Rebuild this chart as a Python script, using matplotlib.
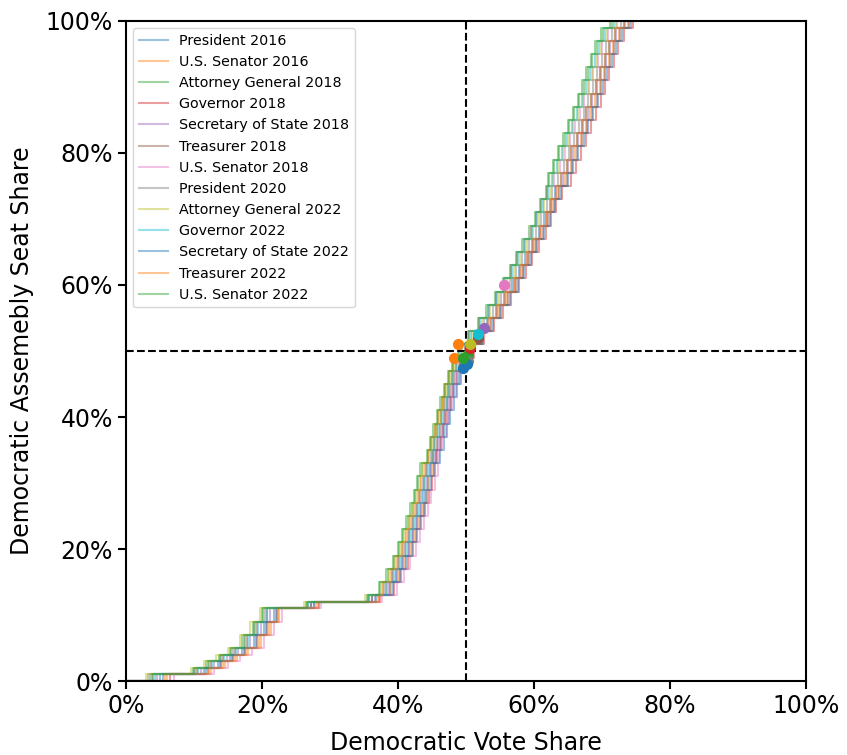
import matplotlib
matplotlib.use("Agg")
import matplotlib.pyplot as plt
from matplotlib.ticker import PercentFormatter

# seat share levels shared by all curves (step reached at the vote share below)
seat_levels = [0.00, 0.01, 0.02, 0.03, 0.04, 0.05, 0.07, 0.09, 0.11, 0.12, 0.13,
               0.15, 0.17, 0.19, 0.21, 0.23, 0.25, 0.27, 0.29, 0.31, 0.33,
               0.35, 0.37, 0.39, 0.41, 0.43, 0.45, 0.47, 0.49,
               0.51, 0.53, 0.55, 0.57, 0.59, 0.61, 0.63, 0.65, 0.67, 0.69, 0.71, 0.73, 0.75,
               0.77, 0.79, 0.81, 0.83, 0.85, 0.87, 0.89, 0.91, 0.93, 0.95, 0.97, 0.99, 1.00]

elections = ["President 2016", "U.S. Senator 2016", "Attorney General 2018", "Governor 2018",
             "Secretary of State 2018", "Treasurer 2018", "U.S. Senator 2018", "President 2020",
             "Attorney General 2022", "Governor 2022", "Secretary of State 2022",
             "Treasurer 2022", "U.S. Senator 2022"]

# vote share at which each seat level is reached, one list per election
president_2016 = [0.000, 0.050, 0.115, 0.135, 0.153, 0.170, 0.188, 0.203, 0.217, 0.272, 0.362,
                  0.388, 0.399, 0.408, 0.416, 0.422, 0.428, 0.434, 0.439, 0.444, 0.449,
                  0.458, 0.463, 0.468, 0.473, 0.478, 0.483, 0.489, 0.495,
                  0.502, 0.517, 0.531, 0.544, 0.556, 0.568, 0.578, 0.587, 0.597, 0.607, 0.615, 0.623, 0.631,
                  0.640, 0.648, 0.655, 0.663, 0.670, 0.677, 0.684, 0.691, 0.697, 0.704, 0.710, 0.719, 0.732]
senator_2016 = [0.000, 0.060, 0.125, 0.145, 0.163, 0.180, 0.198, 0.213, 0.225, 0.282, 0.372,
                0.390, 0.401, 0.410, 0.418, 0.424, 0.430, 0.436, 0.441, 0.446, 0.451,
                0.452, 0.453, 0.458, 0.463, 0.468, 0.473, 0.479, 0.485,
                0.506, 0.521, 0.535, 0.548, 0.560, 0.572, 0.582, 0.591, 0.601, 0.611, 0.619, 0.627, 0.635,
                0.646, 0.654, 0.661, 0.669, 0.676, 0.683, 0.690, 0.697, 0.703, 0.710, 0.716, 0.725, 0.738]
attorney_2018 = [0.000, 0.035, 0.098, 0.118, 0.136, 0.153, 0.171, 0.186, 0.200, 0.264, 0.354,
                 0.374, 0.385, 0.394, 0.402, 0.408, 0.414, 0.420, 0.425, 0.430, 0.435,
                 0.444, 0.449, 0.454, 0.459, 0.464, 0.469, 0.475, 0.481,
                 0.490, 0.505, 0.519, 0.532, 0.544, 0.556, 0.566, 0.575, 0.585, 0.595, 0.603, 0.611, 0.619,
                 0.620, 0.628, 0.635, 0.643, 0.650, 0.657, 0.664, 0.671, 0.677, 0.684, 0.690, 0.699, 0.712]
governor_2018 = [0.000, 0.065, 0.120, 0.140, 0.158, 0.175, 0.193, 0.208, 0.222, 0.284, 0.374,
                 0.394, 0.405, 0.414, 0.422, 0.428, 0.434, 0.440, 0.445, 0.450, 0.455,
                 0.456, 0.461, 0.466, 0.471, 0.476, 0.481, 0.487, 0.493,
                 0.512, 0.527, 0.541, 0.554, 0.566, 0.578, 0.588, 0.597, 0.607, 0.617, 0.625, 0.633, 0.641,
                 0.654, 0.662, 0.669, 0.677, 0.684, 0.691, 0.698, 0.705, 0.711, 0.718, 0.724, 0.733, 0.746]
secretary_2018 = [0.000, 0.045, 0.110, 0.130, 0.148, 0.165, 0.183, 0.198, 0.212, 0.276, 0.366,
                  0.386, 0.397, 0.406, 0.414, 0.420, 0.426, 0.432, 0.437, 0.442, 0.447,
                  0.454, 0.459, 0.464, 0.469, 0.474, 0.479, 0.485, 0.491,
                  0.504, 0.519, 0.533, 0.546, 0.558, 0.570, 0.580, 0.589, 0.599, 0.609, 0.617, 0.625, 0.633,
                  0.642, 0.650, 0.657, 0.665, 0.672, 0.679, 0.686, 0.693, 0.699, 0.706, 0.712, 0.721, 0.734]
treasurer_2018 = [0.000, 0.040, 0.105, 0.125, 0.143, 0.160, 0.178, 0.193, 0.207, 0.272, 0.362,
                  0.382, 0.393, 0.402, 0.410, 0.416, 0.422, 0.428, 0.433, 0.438, 0.443,
                  0.452, 0.457, 0.462, 0.467, 0.472, 0.477, 0.483, 0.489,
                  0.508, 0.523, 0.537, 0.550, 0.562, 0.574, 0.584, 0.593, 0.603, 0.613, 0.621, 0.629, 0.637,
                  0.648, 0.656, 0.663, 0.671, 0.678, 0.685, 0.692, 0.699, 0.705, 0.712, 0.718, 0.727, 0.740]
senator_2018 = [0.000, 0.070, 0.130, 0.150, 0.168, 0.185, 0.203, 0.218, 0.230, 0.287, 0.377,
                0.398, 0.409, 0.418, 0.426, 0.432, 0.438, 0.444, 0.449, 0.454, 0.459,
                0.460, 0.465, 0.470, 0.475, 0.480, 0.485, 0.491, 0.497,
                0.499, 0.505, 0.519, 0.532, 0.544, 0.556, 0.566, 0.575, 0.585, 0.595, 0.603, 0.611, 0.619,
                0.630, 0.638, 0.645, 0.653, 0.660, 0.667, 0.674, 0.681, 0.687, 0.694, 0.700, 0.709, 0.722]
president_2020 = [0.000, 0.032, 0.102, 0.122, 0.140, 0.157, 0.175, 0.190, 0.204, 0.267, 0.357,
                  0.380, 0.391, 0.400, 0.408, 0.414, 0.420, 0.426, 0.431, 0.436, 0.441,
                  0.448, 0.453, 0.458, 0.463, 0.468, 0.473, 0.479, 0.485,
                  0.498, 0.513, 0.527, 0.540, 0.552, 0.564, 0.574, 0.583, 0.593, 0.603, 0.611, 0.619, 0.627,
                  0.636, 0.644, 0.651, 0.659, 0.666, 0.673, 0.680, 0.687, 0.693, 0.700, 0.706, 0.715, 0.728]
attorney_2022 = [0.000, 0.030, 0.095, 0.115, 0.133, 0.150, 0.168, 0.183, 0.197, 0.262, 0.352,
                 0.376, 0.387, 0.396, 0.404, 0.410, 0.416, 0.422, 0.427, 0.432, 0.437,
                 0.446, 0.451, 0.456, 0.461, 0.466, 0.471, 0.477, 0.483,
                 0.494, 0.509, 0.523, 0.536, 0.548, 0.560, 0.570, 0.579, 0.589, 0.599, 0.607, 0.615, 0.623,
                 0.628, 0.636, 0.643, 0.651, 0.658, 0.665, 0.672, 0.679, 0.685, 0.692, 0.698, 0.707, 0.720]
governor_2022 = [0.000, 0.042, 0.106, 0.126, 0.144, 0.161, 0.179, 0.194, 0.208, 0.268, 0.358,
                 0.384, 0.395, 0.404, 0.412, 0.418, 0.424, 0.430, 0.435, 0.440, 0.445,
                 0.450, 0.455, 0.460, 0.465, 0.470, 0.475, 0.481, 0.487,
                 0.492, 0.507, 0.521, 0.534, 0.546, 0.558, 0.568, 0.577, 0.587, 0.597, 0.605, 0.613, 0.621,
                 0.626, 0.634, 0.641, 0.649, 0.656, 0.663, 0.670, 0.677, 0.683, 0.690, 0.696, 0.705, 0.718]
secretary_2022 = [0.000, 0.055, 0.118, 0.138, 0.156, 0.173, 0.191, 0.206, 0.220, 0.277, 0.367,
                  0.392, 0.403, 0.412, 0.420, 0.426, 0.432, 0.438, 0.443, 0.448, 0.453,
                  0.462, 0.467, 0.472, 0.477, 0.482, 0.487, 0.493, 0.499,
                  0.510, 0.525, 0.539, 0.552, 0.564, 0.576, 0.586, 0.595, 0.605, 0.615, 0.623, 0.631, 0.639,
                  0.650, 0.658, 0.665, 0.673, 0.680, 0.687, 0.694, 0.701, 0.707, 0.714, 0.720, 0.729, 0.742]
treasurer_2022 = [0.000, 0.058, 0.122, 0.142, 0.160, 0.177, 0.195, 0.210, 0.224, 0.280, 0.370,
                  0.378, 0.389, 0.398, 0.406, 0.412, 0.418, 0.424, 0.429, 0.434, 0.439,
                  0.444, 0.449, 0.454, 0.459, 0.464, 0.469, 0.475, 0.481,
                  0.504, 0.519, 0.533, 0.546, 0.558, 0.570, 0.580, 0.589, 0.599, 0.609, 0.617, 0.625, 0.633,
                  0.640, 0.648, 0.655, 0.663, 0.670, 0.677, 0.684, 0.691, 0.697, 0.704, 0.710, 0.719, 0.732]
senator_2022 = [0.000, 0.038, 0.100, 0.120, 0.138, 0.155, 0.173, 0.188, 0.202, 0.266, 0.356,
                0.372, 0.383, 0.392, 0.400, 0.406, 0.412, 0.418, 0.423, 0.428, 0.433,
                0.442, 0.447, 0.452, 0.457, 0.462, 0.467, 0.473, 0.479,
                0.488, 0.503, 0.517, 0.530, 0.542, 0.554, 0.564, 0.573, 0.583, 0.593, 0.601, 0.609, 0.617,
                0.622, 0.630, 0.637, 0.645, 0.652, 0.659, 0.666, 0.673, 0.679, 0.686, 0.692, 0.701, 0.714]

curves = [president_2016, senator_2016, attorney_2018, governor_2018, secretary_2018,
          treasurer_2018, senator_2018, president_2020, attorney_2022, governor_2022,
          secretary_2022, treasurer_2022, senator_2022]

# actual result of each election (vote share, seat share)
result_vote = [0.496, 0.483, 0.503, 0.506, 0.527, 0.518, 0.556, 0.503, 0.506, 0.517, 0.502, 0.488, 0.495]
result_seat = [0.475, 0.490, 0.495, 0.505, 0.535, 0.520, 0.600, 0.485, 0.510, 0.525, 0.480, 0.510, 0.490]

colors = plt.rcParams['axes.prop_cycle'].by_key()['color']

fig = plt.figure(figsize=(8.47, 7.55), dpi=100)
ax = fig.add_axes([0.1488, 0.098, 0.8028, 0.8742])

for i, name in enumerate(elections):
    c = colors[i % len(colors)]
    ax.step(curves[i], seat_levels, where='post', color=c, alpha=0.45, lw=1.5, label=name)

for i in range(len(elections)):
    c = colors[i % len(colors)]
    ax.plot(result_vote[i], result_seat[i], 'o', color=c, markersize=7, zorder=5)

ax.axvline(0.5, color='black', ls='--', lw=1.5)
ax.axhline(0.5, color='black', ls='--', lw=1.5)

ax.set_xlim(0, 1)
ax.set_ylim(0, 1)
ax.xaxis.set_major_formatter(PercentFormatter(1.0, decimals=0))
ax.yaxis.set_major_formatter(PercentFormatter(1.0, decimals=0))
ax.tick_params(labelsize=17, width=1.5, length=6)
for sp in ax.spines.values():
    sp.set_linewidth(1.5)

ax.set_xlabel("Democratic Vote Share", fontsize=17, labelpad=9)
ax.set_ylabel("Democratic Assemebly Seat Share", fontsize=17, labelpad=8)

ax.legend(loc='upper left', fontsize=10.3, frameon=True)

fig.savefig("out.png", dpi=100)
